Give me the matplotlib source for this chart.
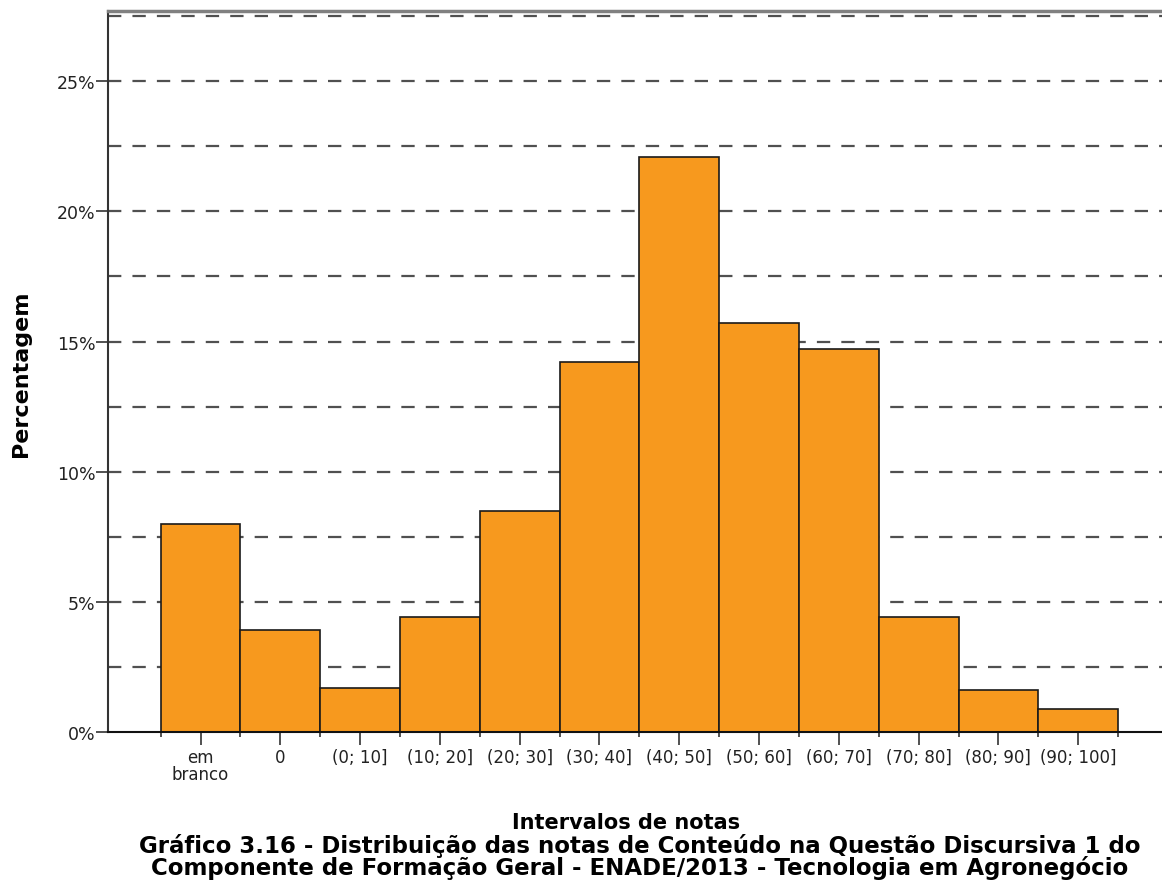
import matplotlib
matplotlib.use("Agg")
import matplotlib.pyplot as plt
from matplotlib.ticker import FixedLocator, FuncFormatter

plt.rcParams["font.family"] = ["DejaVu Sans"]

categories = ["em\nbranco", "0", "(0; 10]", "(10; 20]", "(20; 30]", "(30; 40]",
              "(40; 50]", "(50; 60]", "(60; 70]", "(70; 80]", "(80; 90]", "(90; 100]"]
percent = [8.0, 3.9, 1.7, 4.4, 8.5, 14.2, 22.1, 15.7, 14.7, 4.4, 1.6, 0.9]
yticks = [0, 5, 10, 15, 20, 25]
grid_levels = [2.5, 5, 7.5, 10, 12.5, 15, 17.5, 20, 22.5, 25, 27.5]

fig = plt.figure(figsize=(11.62, 8.87), dpi=100)
ax = fig.add_axes([108 / 1162, 1 - 733 / 887, 1 - 108 / 1162, (733 - 12) / 887])

x = list(range(len(categories)))
for lv in grid_levels:
    ax.axhline(lv, color="#505050", lw=1.6, ls=(0, (6, 5)), zorder=1)
ax.bar(x, percent, width=1.0, color="#F7991E", edgecolor="#1a1a1a", lw=1.2, zorder=2)

ax.set_xlim(-1.16, 12.05)
ax.set_ylim(0, 27.7)
ax.set_xticks(x)
ax.set_xticklabels(categories, fontsize=12, color="#222222", linespacing=0.95)
ax.xaxis.set_minor_locator(FixedLocator([i - 0.5 for i in range(len(categories) + 1)]))
ax.tick_params(axis="x", which="major", length=9.5, width=1.2, color="#333333", pad=2)
ax.tick_params(axis="x", which="minor", length=3.6, width=1.2, color="#333333")
ax.set_yticks(yticks)
ax.yaxis.set_major_formatter(FuncFormatter(lambda v, p: f"{v:.0f}%"))
ax.tick_params(axis="y", length=9, width=1.2, color="#333333", labelsize=12.5,
               labelcolor="#222222", pad=0)

ax.spines["right"].set_visible(False)
ax.spines["left"].set_color("#333333")
ax.spines["left"].set_linewidth(1.5)
ax.spines["bottom"].set_color("#111111")
ax.spines["bottom"].set_linewidth(1.5)
ax.spines["top"].set_color("#808080")
ax.spines["top"].set_linewidth(2.5)

fig.text(21 / 1162, 1 - 374 / 887, "Percentagem", rotation=90, ha="center", va="center",
         fontsize=16, fontweight="bold")
fig.text(626 / 1162, 1 - 823 / 887, "Intervalos de notas", ha="center", va="center",
         fontsize=15, fontweight="bold")
fig.text(640 / 1162, 1 - 857 / 887,
         "Gráfico 3.16 - Distribuição das notas de Conteúdo na Questão Discursiva 1 do\n"
         "Componente de Formação Geral - ENADE/2013 - Tecnologia em Agronegócio",
         ha="center", va="center", fontsize=16.5, fontweight="bold", linespacing=0.85)

fig.savefig("out.png", dpi=100)
